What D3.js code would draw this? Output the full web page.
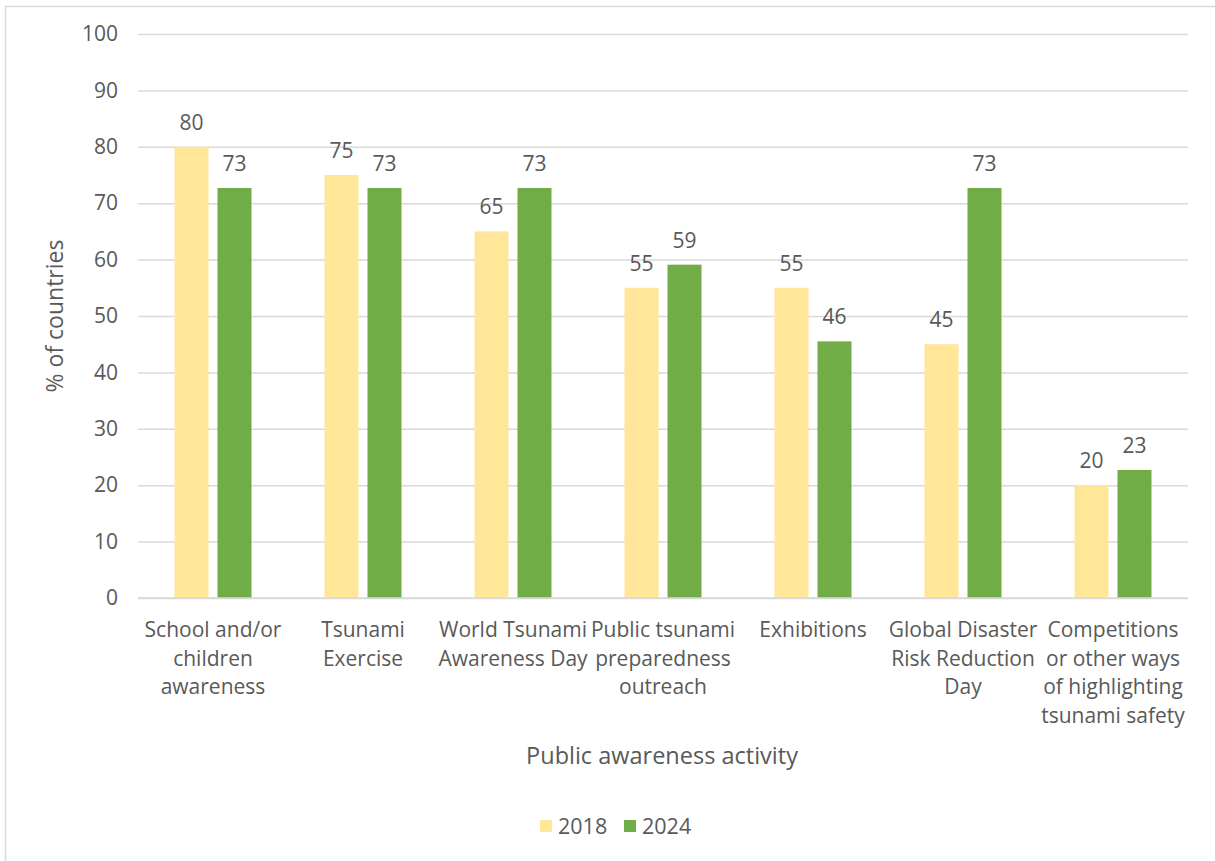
<!DOCTYPE html>
<html><head><meta charset="utf-8">
<script src="https://cdn.jsdelivr.net/npm/d3@7"></script>
<style>
html,body{margin:0;padding:0;background:#fff;}
svg text{font-family:"Open Sans",sans-serif;fill:#595959;}
</style></head>
<body><svg id="chart" width="1215" height="861"></svg>
<script>
const categories = [
  "School and/or\nchildren\nawareness",
  "Tsunami\nExercise",
  "World Tsunami\nAwareness Day",
  "Public tsunami\npreparedness\noutreach",
  "Exhibitions",
  "Global Disaster\nRisk Reduction\nDay",
  "Competitions\nor other ways\nof highlighting\ntsunami safety"
];
const seriesNames = ["2018", "2024"];
const values2018 = [80, 75, 65, 55, 55, 45, 20];
const values2024 = [72.7, 72.7, 72.7, 59.1, 45.5, 72.7, 22.7];
const yTicks = [0, 10, 20, 30, 40, 50, 60, 70, 80, 90, 100];
const colors = ["#FFE699", "#70AD47"];

(function () {
const svg = d3.select("#chart");
svg.append("rect").attr("x", 5.5).attr("y", 6.5).attr("width", 1300).attr("height", 1000)
  .attr("fill", "none").attr("stroke", "#D9D9D9").attr("stroke-width", 1.5);

const mLeft = 138, mRight = 1188, mTop = 34, mBottom = 598;
const x0 = d3.scaleBand().domain(d3.range(categories.length)).range([mLeft, mRight]).padding(0);
const x1 = d3.scaleBand().domain(seriesNames).range([36.5, 113.5]).paddingInner(0.209).paddingOuter(0);
const y = d3.scaleLinear().domain([0, 100]).range([mBottom, mTop]);

const yAxis = d3.axisLeft(y).tickValues(yTicks).tickSize(-(mRight - mLeft)).tickPadding(20);
const gy = svg.append("g").attr("transform", `translate(${mLeft},0)`).call(yAxis);
gy.select(".domain").remove();
gy.selectAll(".tick line").attr("stroke", "#D9D9D9").attr("stroke-width", 1.5);
gy.selectAll(".tick text").attr("font-size", 21).attr("font-family", "Open Sans").attr("fill", "#595959");

const data = [values2018, values2024];
const groups = svg.append("g").selectAll("g").data(categories).join("g")
  .attr("transform", (d, i) => `translate(${x0(i)},0)`);
groups.selectAll("rect").data((d, i) => seriesNames.map((s, k) => ({s, k, v: data[k][i]})))
  .join("rect")
  .attr("x", d => x1(d.s)).attr("width", x1.bandwidth())
  .attr("y", d => y(d.v)).attr("height", d => y(0) - y(d.v))
  .attr("fill", d => colors[d.k]);
groups.selectAll("text.lbl").data((d, i) => seriesNames.map((s, k) => ({s, k, v: data[k][i]})))
  .join("text").attr("class", "lbl")
  .attr("x", d => x1(d.s) + x1.bandwidth() / 2).attr("y", d => y(d.v) - 17)
  .attr("text-anchor", "middle").attr("font-size", 21)
  .text(d => Math.round(d.v));

svg.append("line").attr("x1", mLeft).attr("x2", mRight).attr("y1", mBottom).attr("y2", mBottom)
  .attr("stroke", "#D9D9D9").attr("stroke-width", 1.5);

const xAxis = d3.axisBottom(x0).tickSize(0).tickFormat(() => "");
const gx = svg.append("g").attr("transform", `translate(0,${mBottom})`).call(xAxis);
gx.select(".domain").remove();
gx.selectAll(".tick").each(function (d) {
  const t = d3.select(this).append("text").attr("text-anchor", "middle").attr("font-size", 21)
    .attr("font-family", "Open Sans").attr("fill", "#595959");
  categories[d].split("\n").forEach((line, j) => {
    t.append("tspan").attr("x", 0).attr("y", 39 + j * 28.7).text(line);
  });
});

svg.append("text").attr("x", 662).attr("y", 764).attr("text-anchor", "middle").attr("font-size", 23.5)
  .text("Public awareness activity");
svg.append("text").attr("transform", "translate(63,316) rotate(-90)").attr("text-anchor", "middle")
  .attr("font-size", 23).text("% of countries");

const legend = svg.append("g").attr("transform", "translate(540,826)");
const lx = [0, 84];
seriesNames.forEach((s, k) => {
  const g = legend.append("g").attr("transform", `translate(${lx[k]},0)`);
  g.append("rect").attr("x", 0).attr("y", -6).attr("width", 12).attr("height", 12).attr("fill", colors[k]);
  g.append("text").attr("x", 18).attr("y", 7.5).attr("font-size", 21.5).text(s);
});
})();
</script></body></html>
